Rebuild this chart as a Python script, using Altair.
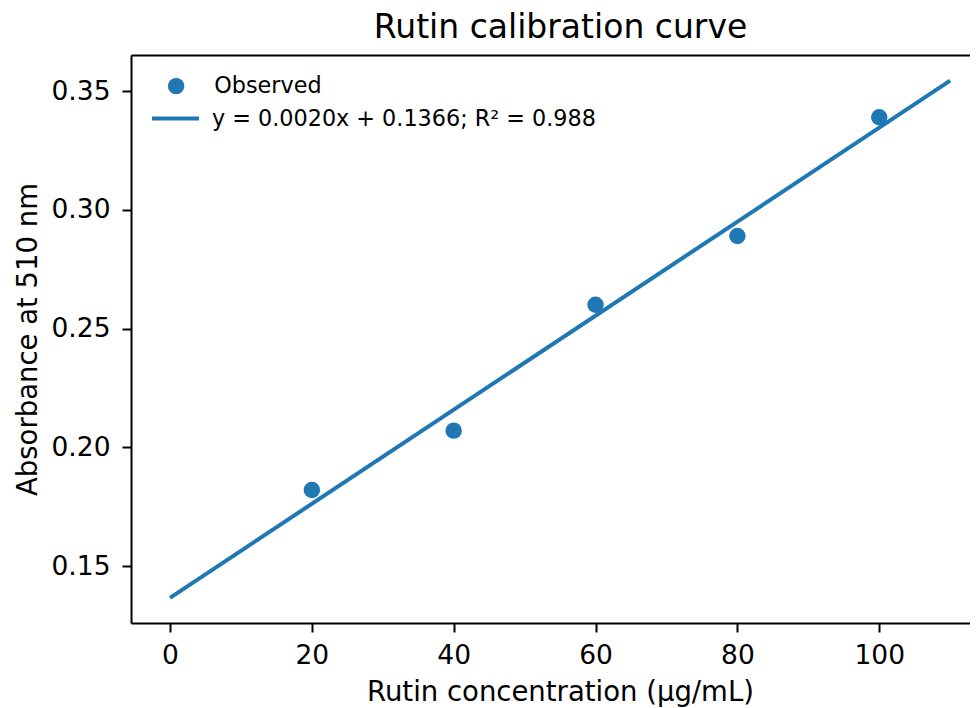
import altair as alt
import pandas as pd

# data
conc = [20, 40, 60, 80, 100]
absorbance = [0.182, 0.207, 0.260, 0.289, 0.339]
fit_x = [0, 110]
fit_y = [0.1366, 0.3544]
series_labels = ["Observed", "y = 0.0020x + 0.1366; R\u00b2 = 0.988"]
x_ticks = [0, 20, 40, 60, 80, 100]
y_ticks = [0.15, 0.20, 0.25, 0.30, 0.35]

BLUE = "#1f77b4"
FONT = "DejaVu Sans"

pts = pd.DataFrame({"x": conc, "y": absorbance, "series": series_labels[0]})
fit = pd.DataFrame({"x": fit_x, "y": fit_y, "series": series_labels[1]})

xscale = alt.Scale(domain=[-5.5, 112.8], nice=False, zero=False)
yscale = alt.Scale(domain=[0.126, 0.3652], nice=False, zero=False)

axis_common = dict(
    grid=False, domainColor="black", domainWidth=2, tickColor="black",
    tickWidth=2, tickSize=9, labelColor="black", labelFont=FONT,
    labelFontSize=26.5, titleFont=FONT, titleFontSize=27.5,
    titleFontWeight="normal", titleColor="black",
)

x_bottom = alt.Axis(
    values=x_ticks, format="d", labelPadding=10,
    title="Rutin concentration (\u00b5g/mL)",
    titleX=429, titleY=77, titleBaseline="alphabetic", titleAlign="center",
    **axis_common,
)
x_top = alt.Axis(
    orient="top", labels=False, ticks=False, title=None, grid=False,
    domainColor="black", domainWidth=2,
)
y_left = alt.Axis(
    values=y_ticks, format=".2f", labelPadding=12,
    title="Absorbance at 510 nm",
    titleX=-95, titleY=284, titleBaseline="alphabetic", titleAlign="center",
    titleAngle=270,
    **axis_common,
)

legend_common = dict(
    orient="none", title=None, labelFontSize=22.3, labelFont=FONT,
    labelColor="black", labelLimit=800, padding=0,
)

points = alt.Chart(pts).mark_circle(size=270, opacity=1).encode(
    x=alt.X("x:Q", scale=xscale, axis=x_bottom),
    y=alt.Y("y:Q", scale=yscale, axis=y_left),
    color=alt.Color(
        "series:N",
        scale=alt.Scale(domain=[series_labels[0]], range=[BLUE]),
        legend=alt.Legend(
            legendX=34, legendY=20, symbolType="circle", symbolSize=270,
            labelOffset=27, **legend_common,
        ),
    ),
)

line = alt.Chart(fit).mark_line(strokeWidth=4).encode(
    x=alt.X("x:Q", scale=xscale, axis=x_top),
    y=alt.Y("y:Q", scale=yscale, axis=y_left),
    color=alt.Color(
        "series:N",
        scale=alt.Scale(domain=[series_labels[1]], range=[BLUE]),
        legend=alt.Legend(
            legendX=19, legendY=38, symbolType="stroke", symbolSize=2209,
            symbolStrokeWidth=4, labelOffset=11, **legend_common,
        ),
    ),
)

chart = (
    alt.layer(line, points)
    .resolve_scale(color="independent")
    .resolve_axis(x="independent")
    .properties(
        width=839, height=568,
        padding={"left": 123, "top": 47, "right": 0, "bottom": 85},
        autosize=alt.AutoSizeParams(type="none"),
        title=alt.TitleParams(
            "Rutin calibration curve", font=FONT, fontSize=33,
            fontWeight="normal", color="black", anchor="middle",
            frame="group", baseline="alphabetic", offset=-16, dx=10,
        ),
    )
    .configure_view(stroke=None)
    .configure(font=FONT)
)

chart.save("out.html", embed_options={"renderer": "svg", "actions": False})
